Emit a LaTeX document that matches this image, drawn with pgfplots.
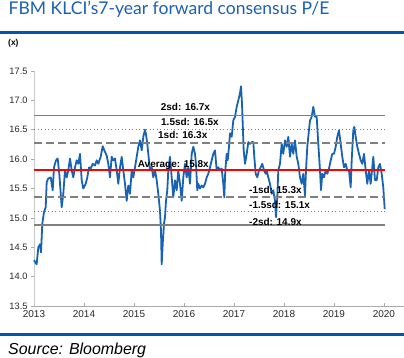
\documentclass[border=0pt]{standalone}
\usepackage{fontspec}
\setmainfont{Liberation Sans}
\newfontfamily\latofont{Lato}
\usepackage{pgfplots}
\pgfplotsset{compat=1.18}
\definecolor{titleblue}{RGB}{28,96,178}
\definecolor{ruleblue}{RGB}{0,86,168}
\definecolor{lineblue}{RGB}{24,98,180}
\definecolor{refgray}{RGB}{128,128,128}
\definecolor{axgray}{RGB}{170,170,170}
\definecolor{ylgray}{RGB}{200,200,200}
\definecolor{ticktext}{RGB}{40,40,40}
\pgfplotstableread{
x y
2013.000 14.28
2013.030 14.24
2013.054 14.21
2013.086 14.50
2013.120 14.55
2013.140 14.41
2013.166 14.90
2013.200 15.10
2013.234 15.18
2013.254 15.61
2013.286 15.67
2013.334 15.69
2013.374 15.47
2013.400 15.86
2013.440 15.98
2013.474 16.01
2013.506 15.75
2013.554 15.18
2013.586 15.41
2013.620 15.81
2013.654 15.69
2013.686 15.81
2013.720 16.01
2013.754 15.81
2013.786 15.69
2013.820 15.86
2013.854 15.98
2013.886 15.92
2013.920 16.09
2013.954 15.64
2013.986 15.50
2014.034 15.58
2014.066 15.69
2014.100 15.86
2014.134 15.84
2014.174 15.92
2014.220 15.89
2014.254 15.98
2014.286 15.92
2014.334 16.04
2014.374 16.22
2014.406 16.15
2014.454 16.06
2014.486 15.92
2014.520 15.69
2014.554 16.04
2014.586 15.98
2014.620 16.01
2014.654 15.81
2014.686 15.58
2014.720 15.86
2014.754 16.04
2014.786 15.81
2014.820 15.58
2014.854 15.29
2014.886 15.55
2014.920 15.41
2014.954 15.81
2014.986 15.69
2015.020 15.86
2015.054 16.04
2015.086 16.21
2015.120 16.32
2015.154 16.15
2015.186 16.38
2015.220 16.50
2015.240 16.42
2015.266 16.26
2015.286 16.09
2015.320 15.81
2015.354 15.86
2015.386 15.69
2015.420 15.81
2015.454 15.64
2015.486 15.41
2015.520 15.12
2015.540 14.78
2015.554 14.21
2015.574 14.55
2015.600 14.90
2015.620 15.01
2015.640 15.29
2015.666 15.47
2015.686 15.81
2015.720 16.04
2015.754 15.69
2015.786 15.35
2015.820 15.64
2015.854 15.47
2015.886 15.81
2015.920 15.58
2015.954 15.29
2015.986 15.69
2016.020 15.92
2016.054 15.69
2016.086 15.86
2016.120 15.58
2016.154 16.09
2016.186 16.21
2016.220 16.09
2016.240 15.92
2016.266 15.47
2016.286 15.58
2016.320 15.50
2016.354 15.55
2016.386 15.52
2016.420 15.58
2016.454 15.69
2016.486 15.75
2016.520 15.86
2016.554 15.98
2016.586 16.09
2016.620 16.15
2016.654 15.81
2016.686 15.86
2016.720 15.81
2016.754 15.84
2016.786 15.58
2016.806 15.35
2016.826 15.81
2016.854 16.09
2016.874 15.98
2016.900 16.21
2016.920 16.44
2016.954 16.38
2016.986 16.66
2017.020 16.72
2017.054 16.89
2017.086 17.00
2017.120 17.12
2017.140 17.24
2017.160 16.95
2017.174 16.61
2017.194 16.15
2017.220 15.92
2017.254 16.09
2017.286 16.29
2017.320 16.26
2017.354 16.29
2017.386 16.29
2017.406 16.04
2017.434 15.75
2017.466 15.69
2017.500 15.81
2017.534 15.86
2017.566 15.92
2017.600 15.81
2017.634 15.75
2017.654 15.81
2017.686 15.69
2017.720 15.58
2017.754 15.41
2017.786 15.47
2017.820 15.29
2017.840 15.01
2017.866 15.35
2017.886 15.81
2017.920 15.92
2017.954 16.26
2017.986 16.09
2018.020 16.32
2018.054 16.21
2018.086 16.38
2018.120 16.04
2018.154 16.26
2018.186 16.09
2018.220 16.32
2018.254 16.04
2018.286 15.92
2018.320 15.69
2018.354 15.58
2018.386 15.75
2018.420 15.38
2018.440 15.81
2018.466 16.21
2018.486 16.38
2018.520 16.66
2018.554 16.72
2018.586 16.89
2018.620 16.72
2018.654 16.72
2018.686 16.26
2018.720 15.81
2018.740 15.47
2018.766 15.75
2018.800 15.69
2018.834 15.81
2018.866 15.75
2018.900 15.84
2018.934 15.98
2018.966 16.09
2019.000 16.09
2019.034 16.21
2019.066 16.38
2019.100 16.49
2019.134 16.26
2019.166 16.04
2019.200 15.86
2019.234 15.92
2019.266 15.81
2019.300 15.81
2019.334 15.52
2019.354 15.98
2019.386 16.49
2019.406 16.55
2019.434 16.38
2019.466 16.21
2019.500 16.09
2019.534 15.98
2019.566 15.92
2019.600 16.09
2019.634 15.81
2019.666 15.58
2019.700 15.81
2019.734 15.58
2019.766 15.86
2019.786 16.04
2019.820 15.64
2019.854 15.64
2019.886 15.86
2019.920 15.92
2019.954 15.75
2019.986 15.52
2020.014 15.15
}\pedata
\begin{document}
\begin{tikzpicture}
\useasboundingbox (0,0) rectangle (404bp,358bp);
\fill[ruleblue] (0bp,324bp) rectangle (404bp,327bp);
\fill[ruleblue] (0bp,21.5bp) rectangle (404bp,24.5bp);
\node[anchor=base west, inner sep=0pt, text=titleblue, font=\latofont\fontsize{17.6}{19}\selectfont] at (8.5bp,343bp) {FBM KLCI’s7-year forward consensus P/E};
\node[anchor=west, inner sep=0pt, font=\bfseries\fontsize{8.5}{9}\selectfont] at (8bp,314.5bp) {(x)};
\node[anchor=base west, inner sep=0pt, font=\itshape\fontsize{16}{18}\selectfont] at (8bp,4bp) {Source: Bloomberg};
\begin{axis}[
  at={(34bp,52bp)}, anchor=south west,
  scale only axis, width=370bp, height=235bp,
  xmin=2013, xmax=2020.4, ymin=13.5, ymax=17.5,
  axis x line*=bottom, axis y line*=left,
  x axis line style={draw=axgray, line width=0.9bp},
  y axis line style={draw=ylgray, line width=0.9bp},
  xtick={2013,2014,...,2020}, ytick={13.5,14,...,17.5},
  xtick align=inside, ytick align=outside,
  major tick length=3bp,
  tick style={draw=axgray, line width=0.6bp},
  /pgf/number format/assume math mode=true,
  xticklabel style={font=\fontsize{10}{11}\selectfont, text=ticktext, yshift=-1.5bp, /pgf/number format/1000 sep={}},
  yticklabel style={font=\fontsize{9.3}{10}\selectfont, text=ticktext, /pgf/number format/fixed, /pgf/number format/fixed zerofill, /pgf/number format/precision=1},
  clip=false,
]
\addplot[lineblue, line width=1.8bp, line join=round] table[x=x,y=y] {\pedata};
\addplot[refgray, line width=1.3bp] coordinates {(2013,16.74) (2020.02,16.74)};
\addplot[refgray, line width=1.1bp, dash pattern=on 0.9bp off 2.6bp] coordinates {(2013,16.51) (2020.02,16.51)};
\addplot[refgray, line width=1.9bp, dash pattern=on 8bp off 4bp] coordinates {(2013,16.28) (2020.02,16.28)};
\addplot[red, line width=1.9bp] coordinates {(2013,15.81) (2020.02,15.81)};
\addplot[refgray, line width=1.9bp, dash pattern=on 8bp off 4bp] coordinates {(2013,15.35) (2020.02,15.35)};
\addplot[refgray, line width=1.1bp, dash pattern=on 0.9bp off 2.6bp] coordinates {(2013,15.11) (2020.02,15.11)};
\addplot[refgray, line width=2bp] coordinates {(2013,14.88) (2020.02,14.88)};
\begin{scope}[every node/.style={anchor=west, inner sep=0pt, font=\bfseries\fontsize{10}{11}\selectfont}]
\node at (axis cs:2015.534,16.885) {2sd: 16.7x};
\node at (axis cs:2015.54,16.633) {1.5sd: 16.5x};
\node at (axis cs:2015.48,16.406) {1sd: 16.3x};
\node at (axis cs:2015.074,15.893) {Average: 15.8x};
\node at (axis cs:2017.3,15.483) {-1sd: 15.3x};
\node at (axis cs:2017.3,15.226) {-1.5sd: 15.1x};
\node at (axis cs:2017.3,14.936) {-2sd: 14.9x};
\end{scope}
\end{axis}
\end{tikzpicture}
\end{document}
